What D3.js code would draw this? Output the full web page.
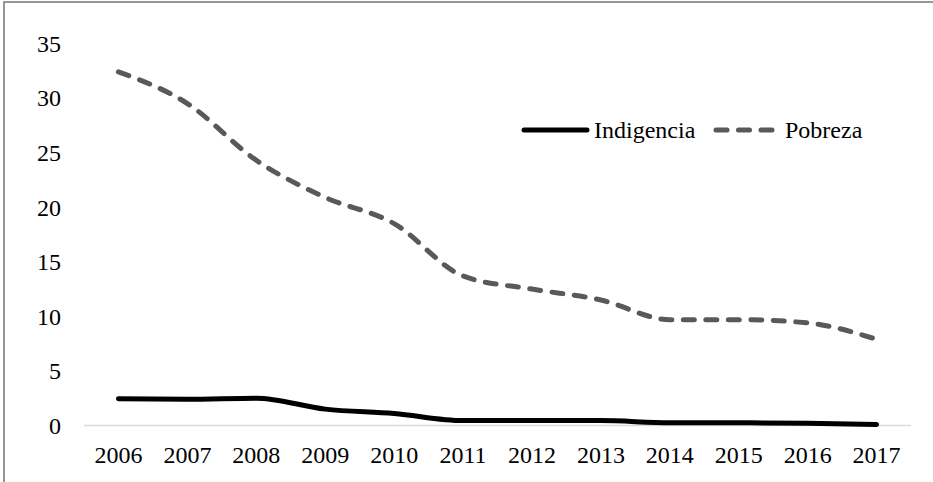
<!DOCTYPE html>
<html>
<head>
<meta charset="utf-8">
<script src="https://cdn.jsdelivr.net/npm/d3@7"></script>
<style>
  html, body { margin: 0; padding: 0; background: #fff; }
  svg { display: block; }
  svg text { font-family: "Liberation Serif", "DejaVu Serif", serif !important; fill: #000; }
</style>
</head>
<body>
<svg id="chart" width="933" height="482"></svg>
<script>
// Poverty and extreme-poverty rates (%), 2006–2017
const years = ["2006","2007","2008","2009","2010","2011","2012","2013","2014","2015","2016","2017"];
const indigencia = [2.45, 2.4, 2.5, 1.5, 1.1, 0.45, 0.45, 0.45, 0.25, 0.25, 0.2, 0.1];
const pobreza = [32.4, 29.5, 24.3, 20.9, 18.5, 13.7, 12.5, 11.5, 9.7, 9.7, 9.4, 7.9];
const yTicks = [0, 5, 10, 15, 20, 25, 30, 35];
const seriesNames = ["Indigencia", "Pobreza"];

const svg = d3.select("#chart");

// outer frame
svg.append("rect")
  .attr("x", 4).attr("y", 2)
  .attr("width", 940).attr("height", 500)
  .attr("fill", "none")
  .attr("stroke", "#767676")
  .attr("stroke-width", 1.5);

const plot = { left: 84, right: 911, top: 43.5, bottom: 425.5 };

const x = d3.scaleBand().domain(years).range([plot.left, plot.right]).padding(0);
const y = d3.scaleLinear().domain([0, 35]).range([plot.bottom, plot.top]);
const cx = d => x(d) + x.bandwidth() / 2;

// baseline
svg.append("line")
  .attr("x1", plot.left).attr("x2", plot.right)
  .attr("y1", y(0)).attr("y2", y(0))
  .attr("stroke", "#d9d9d9").attr("stroke-width", 1.5);

// y axis labels
const yAxis = d3.axisLeft(y).tickValues(yTicks).tickSize(0).tickPadding(0);
const gy = svg.append("g").attr("transform", "translate(61,0)").call(yAxis)
  .attr("font-family", null).attr("font-size", 24);
gy.select(".domain").remove();
gy.selectAll("text")
  .attr("fill", "#000")
  .attr("dy", "0.33em");

// x axis labels
const xAxis = d3.axisBottom(x).tickSize(0).tickPadding(0);
const gx = svg.append("g").attr("transform", "translate(0,446)").call(xAxis)
  .attr("font-family", null).attr("font-size", 24);
gx.select(".domain").remove();
gx.selectAll("text")
  .attr("fill", "#000")
  .attr("dy", "0.72em");

const line = d3.line()
  .x((d, i) => cx(years[i]))
  .y(d => y(d))
  .curve(d3.curveMonotoneX);

svg.append("path")
  .datum(pobreza)
  .attr("d", line)
  .attr("fill", "none")
  .attr("stroke", "#595959")
  .attr("stroke-width", 5)
  .attr("stroke-linecap", "round")
  .attr("stroke-dasharray", "11,11.5");

svg.append("path")
  .datum(indigencia)
  .attr("d", line)
  .attr("fill", "none")
  .attr("stroke", "#000")
  .attr("stroke-width", 5)
  .attr("stroke-linecap", "round");

// legend
const lg = svg.append("g").attr("font-size", 24);
lg.append("line")
  .attr("x1", 524).attr("x2", 587).attr("y1", 130).attr("y2", 130)
  .attr("stroke", "#000").attr("stroke-width", 5).attr("stroke-linecap", "round");
lg.append("text")
  .attr("x", 594).attr("y", 130).attr("dy", "0.33em")
  .text(seriesNames[0]);
lg.append("line")
  .attr("x1", 716).attr("x2", 772).attr("y1", 130).attr("y2", 130)
  .attr("stroke", "#595959").attr("stroke-width", 5).attr("stroke-linecap", "round")
  .attr("stroke-dasharray", "11,11.5");
lg.append("text")
  .attr("x", 785).attr("y", 130).attr("dy", "0.33em")
  .text(seriesNames[1]);
</script>
</body>
</html>
